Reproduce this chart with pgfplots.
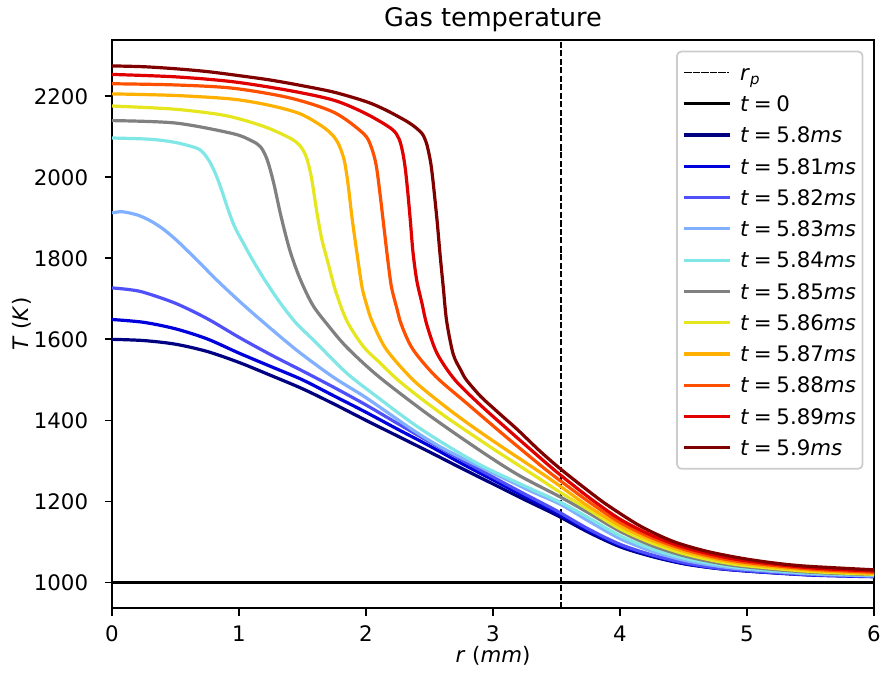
\documentclass[border=0pt]{standalone}
\usepackage{fontspec}
\setmainfont{DejaVu Sans}
\usepackage{pgfplots}
\pgfplotsset{compat=1.18}
\definecolor{c580}{RGB}{0,0,128}
\definecolor{c581}{RGB}{0,0,220}
\definecolor{c582}{RGB}{80,80,250}
\definecolor{c583}{RGB}{128,176,255}
\definecolor{c584}{RGB}{128,230,230}
\definecolor{c585}{RGB}{128,128,128}
\definecolor{c586}{RGB}{230,230,30}
\definecolor{c587}{RGB}{255,176,0}
\definecolor{c588}{RGB}{255,80,0}
\definecolor{c589}{RGB}{224,0,0}
\definecolor{c590}{RGB}{128,0,0}
\newcommand{\lt}[1]{\hspace{5pt}\textit{t}\hspace{2.2pt}=\hspace{2.2pt}#1\textit{ms}\hspace{4pt}}
\begin{document}
\begin{tikzpicture}
\begin{axis}[
  scale only axis,
  width=357.2pt, height=266.4pt,
  xmin=0, xmax=6, ymin=936, ymax=2339,
  xtick={0,1,2,3,4,5,6}, ytick={1000,1200,1400,1600,1800,2000,2200},
  /pgf/number format/assume math mode=true,
  /pgf/number format/1000 sep={},
  tick align=outside, major tick length=3.5pt,
  xtick pos=left, ytick pos=left,
  tick style={black, line width=0.8pt},
  axis line style={line width=0.8pt},
  xticklabel style={anchor=north, inner sep=0pt, yshift=-4.5pt},
  yticklabel style={anchor=east, inner sep=0pt, xshift=-7.5pt},
  title={Gas temperature},
  title style={at={(axis description cs:0.5,1)}, anchor=base, inner sep=0pt, yshift=0.2pt, font=\fontsize{12}{14}\selectfont},
  xlabel={\textit{r} (\textit{mm})},
  xlabel style={at={(axis description cs:0.5,0)}, anchor=north, inner sep=0pt, yshift=-17.4pt},
  ylabel={\textit{T} (\textit{K})},
  ylabel style={at={([xshift=-37.5pt]axis description cs:0,0.5)}, anchor=south, inner sep=0pt},
  legend cell align=left,
  legend style={at={(axis description cs:1,1)}, anchor=north east, xshift=-5pt, yshift=-5pt,
    draw=black!20, line width=0.8pt, rounded corners=2pt, fill=white, fill opacity=0.8, text opacity=1,
    inner xsep=3.1pt, inner ysep=3.94pt, row sep=2.86pt, column sep=0pt,
    nodes={inner sep=0pt, text height=9.5pt, text depth=2.3pt}},
  legend image code/.code={\draw[#1, line cap=rect] (0pt,0pt) -- (20pt,0pt);},
  every axis plot/.append style={no marks, line width=1.5pt, line join=round, smooth, tension=0.5},
]
\addplot[black, line width=0.75pt, dash pattern=on 2.78pt off 1.2pt, line cap=butt] coordinates {(3.5355,936) (3.5355,2339)};
\addlegendentry{\hspace{5pt}\textit{r}\raisebox{-2pt}{\fontsize{7}{7}\selectfont\textit{p}}}
\addplot[black] coordinates {(0,1000) (6,1000)};
\addlegendentry{\hspace{5pt}\textit{t}\hspace{2.2pt}=\hspace{2.2pt}0}
\addplot[c580] coordinates {(0,1600) (0.25,1597) (0.5,1588) (0.75,1570) (1.0,1543) (1.25,1511) (1.5,1478) (1.75,1440) (2.0,1400) (2.25,1361) (2.5,1322) (2.75,1282) (3.0,1243) (3.25,1204) (3.5,1166) (3.75,1124) (4.0,1088) (4.25,1064) (4.5,1046) (4.75,1035) (5.0,1028) (5.25,1023) (5.5,1019) (5.75,1017) (6.0,1015)};
\addlegendentry{\lt{5.8}}
\addplot[c581] coordinates {(0,1649) (0.25,1642) (0.5,1626) (0.75,1601) (1.0,1566) (1.25,1533) (1.5,1500) (1.75,1460) (2.0,1420) (2.25,1378) (2.5,1337) (2.75,1294) (3.0,1253) (3.25,1212) (3.5,1172) (3.75,1128) (4.0,1091) (4.25,1066) (4.5,1047) (4.75,1035) (5.0,1028) (5.5,1018) (6.0,1014)};
\addlegendentry{\lt{5.81}}
\addplot[c582] coordinates {(0,1727) (0.13,1723) (0.25,1716) (0.5,1689) (0.75,1651) (1.0,1605) (1.25,1562) (1.5,1522) (1.75,1481) (2.0,1438) (2.25,1392) (2.5,1347) (2.75,1303) (3.0,1260) (3.25,1218) (3.5,1177) (3.75,1132) (4.0,1094) (4.25,1068) (4.5,1049) (4.75,1036) (5.0,1029) (5.5,1019) (6.0,1015)};
\addlegendentry{\lt{5.82}}
\addplot[c583] coordinates {(0,1912) (0.08,1915) (0.2,1907) (0.3,1893) (0.4,1873) (0.5,1847) (0.6,1817) (0.7,1786) (0.8,1754) (0.9,1724) (1.0,1695) (1.1,1667) (1.2,1640) (1.35,1600) (1.5,1562) (1.75,1505) (2.0,1456) (2.37,1376) (2.6,1332) (2.9,1285) (3.1,1255) (3.3,1225) (3.535,1192) (3.75,1152) (4.0,1108) (4.25,1077) (4.5,1055) (4.75,1041) (5.0,1032) (5.5,1021) (6.0,1016)};
\addlegendentry{\lt{5.83}}
\addplot[c584] coordinates {(0,2097) (0.3,2094) (0.5,2086) (0.667,2072) (0.72,2060) (0.77,2038) (0.82,2005) (0.87,1962) (0.92,1915) (0.97,1875) (1.03,1840) (1.1,1800) (1.2,1748) (1.32,1692) (1.45,1640) (1.6,1594) (1.85,1516) (2.1,1455) (2.37,1392) (2.6,1345) (2.9,1290) (3.2,1245) (3.535,1197) (3.75,1160) (4.0,1115) (4.25,1083) (4.5,1060) (4.75,1045) (5.0,1035) (5.5,1023) (6.0,1018)};
\addlegendentry{\lt{5.84}}
\addplot[c585] coordinates {(0,2140) (0.5,2134) (0.95,2108) (1.1,2090) (1.17,2075) (1.22,2045) (1.27,1990) (1.33,1905) (1.4,1820) (1.48,1750) (1.58,1685) (1.7,1635) (1.85,1580) (2.1,1508) (2.5,1412) (2.9,1325) (3.2,1265) (3.535,1210) (3.75,1172) (4.0,1126) (4.25,1091) (4.5,1066) (4.75,1049) (5.0,1038) (5.5,1025) (6.0,1019)};
\addlegendentry{\lt{5.85}}
\addplot[c586] coordinates {(0,2176) (0.5,2168) (0.9,2152) (1.2,2125) (1.4,2097) (1.48,2078) (1.53,2050) (1.57,2000) (1.61,1920) (1.65,1850) (1.7,1790) (1.76,1720) (1.85,1645) (1.98,1582) (2.1,1545) (2.25,1500) (2.45,1450) (2.65,1404) (3.0,1330) (3.37,1255) (3.5,1228) (3.75,1180) (4.0,1132) (4.25,1097) (4.5,1071) (4.75,1053) (5.0,1041) (5.5,1027) (6.0,1020)};
\addlegendentry{\lt{5.86}}
\addplot[c587] coordinates {(0,2206) (0.5,2202) (0.95,2193) (1.25,2177) (1.48,2157) (1.65,2127) (1.74,2103) (1.79,2078) (1.83,2040) (1.86,1980) (1.89,1900) (1.93,1810) (1.97,1727) (2.01,1680) (2.05,1643) (2.16,1575) (2.37,1500) (2.6,1440) (2.8,1393) (3.03,1343) (3.37,1272) (3.5,1244) (3.75,1188) (4.0,1140) (4.25,1104) (4.5,1077) (4.75,1058) (5.0,1045) (5.5,1030) (6.0,1022)};
\addlegendentry{\lt{5.87}}
\addplot[c588] coordinates {(0,2231) (0.5,2228) (0.95,2220) (1.4,2196) (1.75,2160) (1.98,2108) (2.04,2076) (2.08,2030) (2.11,1960) (2.14,1880) (2.17,1800) (2.2,1730) (2.24,1680) (2.28,1635) (2.37,1575) (2.55,1508) (2.79,1443) (3.1,1360) (3.37,1290) (3.5,1258) (3.75,1200) (4.0,1148) (4.25,1110) (4.5,1082) (4.75,1062) (5.0,1049) (5.5,1033) (6.0,1025)};
\addlegendentry{\lt{5.88}}
\addplot[c589] coordinates {(0,2254) (0.5,2248) (0.95,2236) (1.4,2214) (1.75,2190) (2.0,2157) (2.2,2120) (2.26,2095) (2.29,2060) (2.31,2020) (2.33,1960) (2.35,1890) (2.37,1815) (2.4,1745) (2.44,1690) (2.48,1635) (2.56,1565) (2.7,1500) (2.9,1438) (3.1,1382) (3.3,1327) (3.5,1273) (3.75,1211) (4.0,1156) (4.25,1116) (4.5,1087) (4.75,1067) (5.0,1053) (5.5,1036) (6.0,1028)};
\addlegendentry{\lt{5.89}}
\addplot[c590] coordinates {(0,2275) (0.25,2273) (0.5,2268) (0.75,2261) (1.0,2251) (1.25,2240) (1.5,2226) (1.75,2210) (2.0,2187) (2.15,2167) (2.3,2142) (2.37,2128) (2.42,2115) (2.45,2104) (2.48,2080) (2.51,2035) (2.53,1984) (2.56,1892) (2.583,1810) (2.609,1727) (2.635,1645) (2.687,1563) (2.75,1522) (2.79,1500) (2.9,1460) (3.0,1431) (3.1,1403) (3.2,1375) (3.37,1324) (3.535,1279) (3.75,1226) (3.9,1191) (4.16,1139) (4.42,1101) (4.68,1077) (4.95,1060) (5.21,1048) (5.47,1040) (6.0,1031)};
\addlegendentry{\lt{5.9}}
\end{axis}
\pgfresetboundingbox
\path ([xshift=-52.5pt,yshift=-33.1pt]current axis.south west) rectangle ([xshift=3.75pt,yshift=18.75pt]current axis.north east);
\end{tikzpicture}
\end{document}
